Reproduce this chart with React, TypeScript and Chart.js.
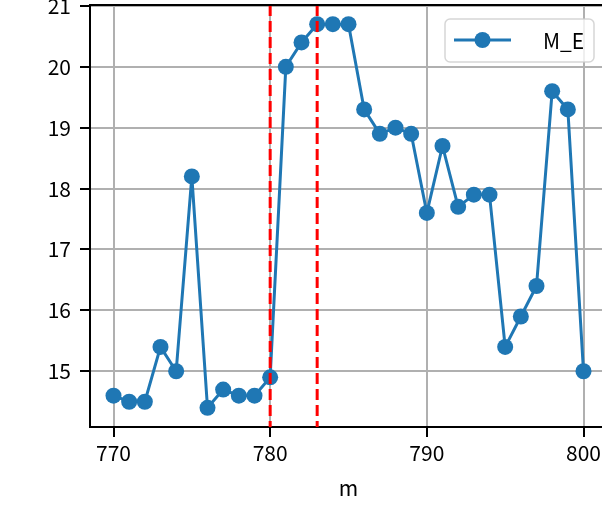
import React, { useEffect, useRef } from "react";
import { Chart, registerables } from "chart.js";

Chart.register(...registerables);

const positions = [770, 771, 772, 773, 774, 775, 776, 777, 778, 779, 780, 781, 782, 783, 784, 785, 786, 787, 788, 789, 790, 791, 792, 793, 794, 795, 796, 797, 798, 799, 800];
const mEValues = [14.6, 14.5, 14.5, 15.4, 15.0, 18.2, 14.4, 14.7, 14.6, 14.6, 14.9, 20.0, 20.4, 20.7, 20.7, 20.7, 19.3, 18.9, 19.0, 18.9, 17.6, 18.7, 17.7, 17.9, 17.9, 15.4, 15.9, 16.4, 19.6, 19.3, 15.0];
const xTicks = [770, 780, 790, 800];
const yTicks = [15, 16, 17, 18, 19, 20, 21];
const markerLines = [780, 783];
const seriesLabel = "M_E";
const xTitle = "m";

const FONT = "'Noto Sans CJK JP', 'Noto Sans', sans-serif";
const BLUE = "#1f77b4";

const W = 612;
const H = 508;

export default function App() {
  const ref = useRef<HTMLCanvasElement | null>(null);

  useEffect(() => {
    const canvas = ref.current;
    if (!canvas) return;

    const overlay = {
      id: "overlay",
      afterDatasetsDraw(chart: any) {
        const { ctx, chartArea, scales } = chart;
        ctx.save();
        ctx.strokeStyle = "#ff0000";
        ctx.lineWidth = 3;
        ctx.setLineDash([11, 5]);
        for (const v of markerLines) {
          const x = scales.x.getPixelForValue(v);
          ctx.beginPath();
          ctx.moveTo(x, chartArea.top);
          ctx.lineTo(x, chartArea.bottom);
          ctx.stroke();
        }
        ctx.setLineDash([]);
        // top spine (right spine lies beyond the visible page)
        ctx.strokeStyle = "#000";
        ctx.lineWidth = 2;
        ctx.beginPath();
        ctx.moveTo(chartArea.left - 1, chartArea.top);
        ctx.lineTo(chartArea.right + 1, chartArea.top);
        ctx.stroke();
        ctx.restore();
      },
      afterDraw(chart: any) {
        const { ctx } = chart;
        ctx.save();
        const bx = 445, by = 19, bw = 149, bh = 43, r = 5;
        ctx.beginPath();
        ctx.moveTo(bx + r, by);
        ctx.lineTo(bx + bw - r, by);
        ctx.arcTo(bx + bw, by, bx + bw, by + r, r);
        ctx.lineTo(bx + bw, by + bh - r);
        ctx.arcTo(bx + bw, by + bh, bx + bw - r, by + bh, r);
        ctx.lineTo(bx + r, by + bh);
        ctx.arcTo(bx, by + bh, bx, by + bh - r, r);
        ctx.lineTo(bx, by + r);
        ctx.arcTo(bx, by, bx + r, by, r);
        ctx.closePath();
        ctx.fillStyle = "rgba(255,255,255,0.8)";
        ctx.fill();
        ctx.strokeStyle = "rgba(204,204,204,0.8)";
        ctx.lineWidth = 1.5;
        ctx.stroke();
        const cy = 40;
        ctx.strokeStyle = BLUE;
        ctx.lineWidth = 3;
        ctx.beginPath();
        ctx.moveTo(454, cy);
        ctx.lineTo(511, cy);
        ctx.stroke();
        ctx.fillStyle = BLUE;
        ctx.beginPath();
        ctx.arc(482.5, cy, 8, 0, Math.PI * 2);
        ctx.fill();
        ctx.fillStyle = "#000";
        ctx.font = `21px ${FONT}`;
        ctx.textAlign = "left";
        ctx.textBaseline = "middle";
        ctx.fillText(seriesLabel, 543, cy + 1);
        ctx.restore();
      },
    };

    const chart = new Chart(canvas, {
      type: "line",
      data: {
        datasets: [
          {
            label: seriesLabel,
            data: positions.map((p, i) => ({ x: p, y: mEValues[i] })),
            borderColor: BLUE,
            backgroundColor: BLUE,
            borderWidth: 3,
            pointRadius: 8,
            pointBorderWidth: 0,
            pointBackgroundColor: BLUE,
            tension: 0,
            fill: false,
          },
        ],
      },
      options: {
        animation: false,
        responsive: false,
        devicePixelRatio: 1,
        layout: { autoPadding: false, padding: { left: 0, top: 5, right: W - 607, bottom: 0 } },
        plugins: {
          legend: { display: false },
          tooltip: { enabled: false },
        },
        scales: {
          x: {
            type: "linear",
            min: 768.5,
            max: 801.5,
            afterBuildTicks: (s: any) => {
              s.ticks = xTicks.map((v) => ({ value: v }));
            },
            afterFit: (s: any) => {
              s.height = 81;
              s.paddingLeft = 0;
              s.paddingRight = 0;
            },
            grid: {
              color: "#b0b0b0",
              lineWidth: 2,
              tickColor: "#000",
              tickLength: 10,
              tickWidth: 2,
            },
            border: { color: "#000", width: 2 },
            ticks: {
              color: "#000",
              font: { family: FONT, size: 21 },
              padding: 3,
              maxRotation: 0,
              autoSkip: false,
            },
            title: {
              display: true,
              text: xTitle,
              color: "#000",
              font: { family: FONT, size: 21 },
              padding: { top: 0, bottom: 7 },
            },
          },
          y: {
            type: "linear",
            min: 14.085,
            max: 21.015,
            afterBuildTicks: (s: any) => {
              s.ticks = yTicks.map((v) => ({ value: v }));
            },
            afterFit: (s: any) => {
              s.width = 90;
              s.paddingTop = 0;
              s.paddingBottom = 0;
            },
            grid: {
              color: "#b0b0b0",
              lineWidth: 2,
              tickColor: "#000",
              tickLength: 10,
              tickWidth: 2,
            },
            border: { color: "#000", width: 2 },
            ticks: {
              color: "#000",
              font: { family: FONT, size: 21 },
              padding: 9,
              autoSkip: false,
            },
          },
        },
      },
      plugins: [overlay],
    } as any);

    return () => chart.destroy();
  }, []);

  return (
    <div style={{ position: "fixed", left: 0, top: 0, width: 602, height: 508, overflow: "hidden", background: "#fff" }}>
      <canvas ref={ref} width={W} height={H} style={{ width: W, height: H, display: "block" }} />
    </div>
  );
}
